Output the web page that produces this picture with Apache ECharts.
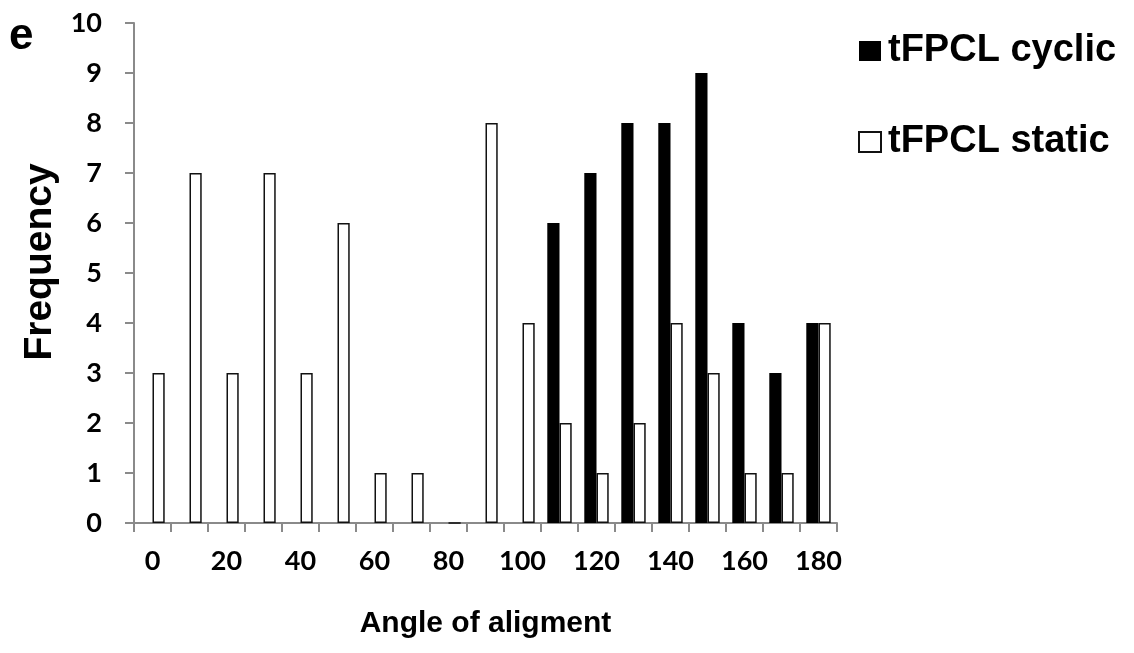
<!DOCTYPE html>
<html>
<head>
<meta charset="utf-8">
<script src="https://cdn.jsdelivr.net/npm/echarts@6/dist/echarts.min.js"></script>
<style>
html,body{margin:0;padding:0;background:#fff;}
#chart{width:1134px;height:653px;}
</style>
</head>
<body>
<div id="chart"></div>
<script>
var categories = ['0','10','20','30','40','50','60','70','80','90','100','110','120','130','140','150','160','170','180'];
var cyclicValues = [0,0,0,0,0,0,0,0,0,0,0,6,7,8,8,9,4,3,4];
var staticValues = [3,7,3,7,3,6,1,1,0,8,4,2,1,2,4,3,1,1,4];
var yTicks = [0,1,2,3,4,5,6,7,8,9,10];
var seriesNames = ['tFPCL cyclic','tFPCL static'];
var xTitle = 'Angle of aligment';
var yTitle = 'Frequency';
var panelLabel = 'e';

var chart = echarts.init(document.getElementById('chart'), null, {renderer:'canvas'});
var axisGrey = '#8a8a8a';
var tickFont = 'Lato, "Open Sans", sans-serif';
var titleFont = '"Liberation Sans", Arial, sans-serif';

chart.setOption({
  animation: false,
  backgroundColor: '#ffffff',
  graphic: [{
    type: 'text',
    left: 9,
    top: 15,
    style: { text: panelLabel, fontSize: 44, fontWeight: 'bold', fontFamily: titleFont, fill: '#000' }
  }],
  legend: {
    orient: 'vertical',
    left: 853,
    top: 26,
    itemWidth: 22,
    itemHeight: 20,
    itemGap: 51,
    icon: 'rect',
    data: seriesNames,
    textStyle: { fontFamily: titleFont, fontWeight: 'bold', fontSize: 38, lineHeight: 40, color: '#000', padding: [0,0,0,2] }
  },
  grid: { left: 134, top: 23, width: 703, height: 500, containLabel: false },
  xAxis: {
    type: 'category',
    data: categories,
    name: xTitle,
    nameLocation: 'middle',
    nameGap: 86,
    nameTextStyle: { fontFamily: titleFont, fontWeight: 'bold', fontSize: 30, color: '#000' },
    axisLine: { show: true, lineStyle: { color: axisGrey, width: 2 } },
    axisTick: { show: true, interval: 0, length: 9, lineStyle: { color: axisGrey, width: 2 } },
    axisLabel: { interval: 1, margin: 25, fontFamily: tickFont, fontWeight: 'bold', fontSize: 27, color: '#000' },
    splitLine: { show: false }
  },
  yAxis: {
    type: 'value',
    min: yTicks[0],
    max: yTicks[yTicks.length - 1],
    interval: 1,
    name: yTitle,
    nameLocation: 'middle',
    nameRotate: 90,
    nameGap: 65,
    nameTextStyle: { fontFamily: titleFont, fontWeight: 'bold', fontSize: 39, color: '#000', padding: [0,0,0,22] },
    axisLine: { show: true, lineStyle: { color: axisGrey, width: 2 } },
    axisTick: { show: true, length: 9, lineStyle: { color: axisGrey, width: 2 } },
    axisLabel: { margin: 32, fontFamily: tickFont, fontWeight: 'bold', fontSize: 27, color: '#000' },
    splitLine: { show: false }
  },
  series: [{
    name: seriesNames[0],
    type: 'bar',
    data: cyclicValues,
    barGap: '0%',
    barCategoryGap: '34%',
    itemStyle: { color: '#000', borderColor: '#000', borderWidth: 0 }
  }, {
    name: seriesNames[1],
    type: 'bar',
    data: staticValues,
    barGap: '0%',
    barCategoryGap: '34%',
    itemStyle: { color: '#fff', borderColor: '#111', borderWidth: 1.5 }
  }]
});
</script>
</body>
</html>
